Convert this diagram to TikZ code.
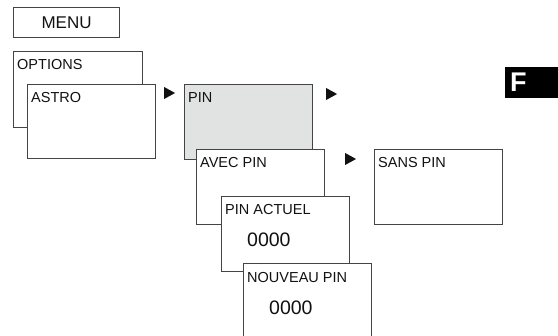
\documentclass[tikz,border=0pt]{standalone}
\usepackage{fontspec}
\setmainfont{Liberation Sans}
\usetikzlibrary{calc,positioning}
\definecolor{pingray}{HTML}{E1E2E2}
\definecolor{frame}{HTML}{444444}
\definecolor{ink}{HTML}{111111}
\newcommand{\navarrow}[1]{\fill[ink] (#1) -- ++(0,12) -- ++(11,-6) -- cycle;}

\begin{document}
\begin{tikzpicture}[x=1pt,y=-1pt,
  scr/.style={draw=frame,line width=1.1pt,fill=white,inner sep=0pt,
  minimum width=128pt,minimum height=75pt,anchor=north west},
  lbl/.style={anchor=base west,inner sep=0pt,font=\fontsize{14.5}{16}\selectfont,text=ink},
  digits/.style={anchor=base west,inner sep=0pt,font=\fontsize{19.5}{22}\selectfont,text=ink}]
\useasboundingbox[fill=white] (0,0) rectangle (558,336);
\clip (0,0) rectangle (558,336);
% menu header
\node[scr,minimum width=106pt,minimum height=30pt,font=\fontsize{17}{19}\selectfont,text=ink] (menu) at (13,7) {MENU};
% options / astro
\node[scr,minimum width=129pt,minimum height=76pt] (options) at (13,51) {};
\node[lbl] (optionsT) at ($(options.north west)+(4,19)$) {OPTIONS};
\node[scr,minimum height=74pt] (astro) at (27,84) {};
\node[lbl] (astroT) at ($(astro.north west)+(4,19)$) {ASTRO};
% pin menu
\node[scr,fill=pingray] (pin) at (184,84) {};
\node[lbl] (pinT) at ($(pin.north west)+(4,19)$) {PIN};
\node[scr] (avec) at (196,149) {};
\node[lbl] (avecT) at ($(avec.north west)+(4,19)$) {AVEC PIN};
\node[scr] (sans) at (374,149) {};
\node[lbl] (sansT) at ($(sans.north west)+(4,19)$) {SANS PIN};
\node[scr] (actuel) at (221,196) {};
\node[lbl] (actuelT) at ($(actuel.north west)+(4,19)$) {PIN ACTUEL};
\node[digits] (actuelV) at ($(actuel.north west)+(26,51)$) {0000};
\node[scr] (nouveau) at (243,263) {};
\node[lbl] (nouveauT) at ($(nouveau.north west)+(4,20)$) {NOUVEAU PIN};
\node[digits] (nouveauV) at ($(nouveau.north west)+(26,52)$) {0000};
% arrows
\navarrow{$(astro.north east)+(8,3)$}
\navarrow{$(pin.north east)+(13,4)$}
\navarrow{$(avec.north east)+(20,4)$}
% language tab
\node[fill=black,anchor=north west,minimum width=54pt,minimum height=31pt,inner sep=0pt] (tab) at (505,67) {};
\node[anchor=base west,inner sep=0pt,text=white,font=\fontsize{27}{30}\selectfont\bfseries] (tabT) at ($(tab.north west)+(5,25)$) {F};
\end{tikzpicture}
\end{document}
